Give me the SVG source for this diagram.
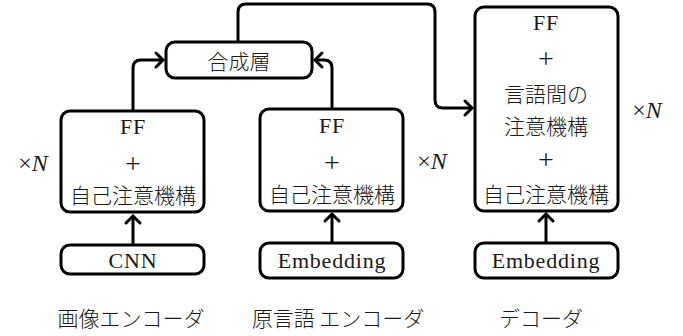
<svg xmlns="http://www.w3.org/2000/svg" width="683" height="336" viewBox="0 0 683 336">
<style>
.box{fill:#fff;stroke:#000;stroke-width:3}
.t{font-family:"Liberation Serif","Noto Sans CJK JP",serif;font-size:22px;letter-spacing:0.8px;fill:#1a1a1a;text-anchor:middle;dominant-baseline:central}
.p{font-family:"Liberation Serif",serif;font-size:28px;font-weight:300;fill:#1a1a1a;text-anchor:middle;dominant-baseline:central}
.x{font-family:"Liberation Serif",serif;font-size:24px;fill:#1a1a1a;text-anchor:middle;dominant-baseline:central}
.j{font-family:"Noto Sans CJK JP",sans-serif;font-size:21px;font-weight:300;fill:#1a1a1a;text-anchor:middle;dominant-baseline:central}
.c{fill:none;stroke:#000;stroke-width:3;marker-end:url(#ah)}
</style>
<defs>
<marker id="ah" markerUnits="userSpaceOnUse" orient="auto" refX="0" refY="0" markerWidth="20" markerHeight="20" viewBox="-10 -10 20 20" overflow="visible">
<path d="M-7,-7 Q-2,-2 0,0 Q-2,2 -7,7" fill="none" stroke="#000" stroke-width="3" stroke-linecap="round"/>
</marker>
</defs>
<g id="connectors">
<path class="c" d="M133,111 V68 Q133,60 141,60 H163"/>
<path class="c" d="M332,109 V68 Q332,60 324,60 H315"/>
<path class="c" d="M238,42 V12 Q238,4 246,4 H427 Q435,4 435,12 V100 Q435,108 443,108 H472"/>
<path class="c" d="M133,245 V216"/>
<path class="c" d="M332,243 V214"/>
<path class="c" d="M546,243 V214"/>
</g>
<g id="merge">
<rect class="box" x="166" y="42" width="146" height="36" rx="9"/>
<text class="j" x="239" y="60">合成層</text>
</g>
<g id="img-enc">
<rect class="box" x="61" y="111" width="143" height="101" rx="9"/>
<text class="t" x="133" y="126">FF</text>
<text class="p" x="133" y="163">+</text>
<text class="j" x="133" y="194">自己注意機構</text>
</g>
<g id="cnn">
<rect class="box" x="61" y="245" width="143" height="29" rx="9"/>
<text class="t" x="133" y="260">CNN</text>
</g>
<g id="src-enc">
<rect class="box" x="260" y="109" width="143" height="102" rx="9"/>
<text class="t" x="332" y="125">FF</text>
<text class="p" x="332" y="162">+</text>
<text class="j" x="332" y="193">自己注意機構</text>
</g>
<g id="src-emb">
<rect class="box" x="260" y="243" width="143" height="35" rx="9"/>
<text class="t" x="332" y="260">Embedding</text>
</g>
<g id="dec">
<rect class="box" x="475" y="7" width="143" height="204" rx="9"/>
<text class="t" x="546" y="22">FF</text>
<text class="p" x="546" y="58">+</text>
<text class="j" x="546" y="93">言語間の</text>
<text class="j" x="546" y="125">注意機構</text>
<text class="p" x="546" y="159">+</text>
<text class="j" x="546" y="193">自己注意機構</text>
</g>
<g id="dec-emb">
<rect class="box" x="475" y="243" width="143" height="35" rx="9"/>
<text class="t" x="546" y="260">Embedding</text>
</g>
<g id="labels">
<text class="x" x="33" y="163">×<tspan font-style="italic">N</tspan></text>
<text class="x" x="432" y="161">×<tspan font-style="italic">N</tspan></text>
<text class="x" x="647" y="110">×<tspan font-style="italic">N</tspan></text>
<text class="j" x="131" y="317">画像エンコーダ</text>
<text class="j" x="338" y="317">原言語 エンコーダ</text>
<text class="j" x="541" y="317">デコーダ</text>
</g>
</svg>
